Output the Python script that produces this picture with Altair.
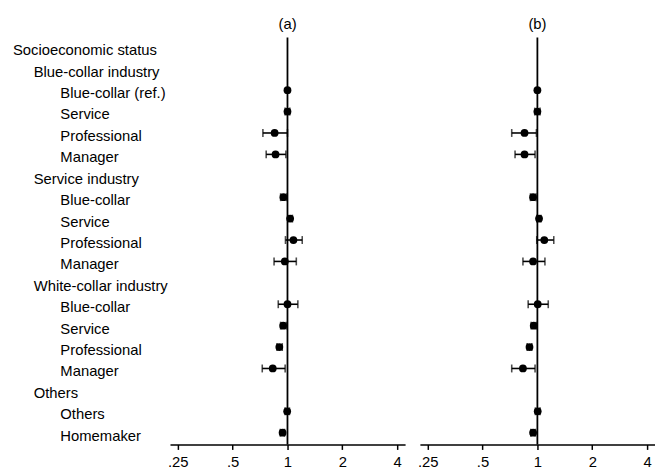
import altair as alt
import pandas as pd

labels = [
    "Socioeconomic status",
    "Blue-collar industry",
    "Blue-collar (ref.)", "Service", "Professional", "Manager",
    "Service industry",
    "Blue-collar", "Service", "Professional", "Manager",
    "White-collar industry",
    "Blue-collar", "Service", "Professional", "Manager",
    "Others",
    "Others", "Homemaker",
]
levels = [0, 1, 2, 2, 2, 2, 1, 2, 2, 2, 2, 1, 2, 2, 2, 2, 1, 2, 2]

est_a = [None, None, 1.00, 1.00, 0.85, 0.86, None, 0.95, 1.034, 1.078, 0.967, None, 1.00, 0.947, 0.902, 0.83, None, 0.996, 0.94]
lo_a = [None, None, None, 0.97, 0.733, 0.764, None, 0.917, 1.004, 0.975, 0.844, None, 0.89, 0.917, 0.876, 0.727, None, 0.97, 0.913]
hi_a = [None, None, None, 1.03, 1.00, 0.98, None, 0.988, 1.064, 1.205, 1.118, None, 1.14, 0.984, 0.936, 0.971, None, 1.025, 0.963]

est_b = [None, None, 1.00, 1.00, 0.85, 0.85, None, 0.947, 1.021, 1.091, 0.947, None, 1.004, 0.955, 0.905, 0.833, None, 1.004, 0.947]
lo_b = [None, None, None, 0.967, 0.723, 0.754, None, 0.916, 0.992, 0.992, 0.833, None, 0.89, 0.924, 0.879, 0.723, None, 0.975, 0.92]
hi_b = [None, None, None, 1.034, 0.988, 0.971, None, 0.983, 1.047, 1.23, 1.10, None, 1.147, 0.988, 0.932, 0.971, None, 1.034, 0.975]

tick_values = [0.25, 0.5, 1, 2, 4]
tick_labels = [".25", ".5", "1", "2", "4"]
panel_titles = ["(a)", "(b)"]

FONT = "Liberation Sans"
FS = 15
n = len(labels)
rows = list(range(n))

label_df = pd.DataFrame({"row": rows, "label": labels, "level": levels})

yscale = alt.Scale(domain=[-0.46, n - 1 + 0.55], reverse=True, nice=False, zero=False)
xscale = alt.Scale(type="log", base=2, domain=[0.2266, 4.42], nice=False)

label_expr = " : ".join(
    f"datum.value == {v} ? '{t}'" for v, t in zip(tick_values, tick_labels)
) + " : ''"

indent_px = [5, 26, 53]
label_layers = []
for lv, px in enumerate(indent_px):
    label_layers.append(
        alt.Chart(label_df)
        .transform_filter(alt.datum.level == lv)
        .mark_text(align="left", baseline="middle", fontSize=FS, font=FONT, color="black", dy=3)
        .encode(x=alt.value(px), y=alt.Y("row:Q", scale=yscale, axis=None), text="label:N")
    )
label_panel = alt.layer(*label_layers).properties(width=149, height=412)


def panel(est, lo, hi, title):
    df = pd.DataFrame({"row": rows, "est": est, "lo": lo, "hi": hi})
    base = alt.Chart(df)
    y = alt.Y("row:Q", scale=yscale, axis=None)
    xaxis = alt.Axis(
        values=tick_values, labelExpr=label_expr, title=None, grid=False,
        domainColor="black", domainWidth=1.5, tickColor="black", tickWidth=1.5,
        tickSize=5, labelFontSize=FS, labelFont=FONT, labelColor="black",
        labelPadding=5, labelFlush=False, labelOverlap=False,
    )
    refline = alt.Chart(pd.DataFrame({"v": [1]})).mark_rule(color="black", strokeWidth=1.8).encode(
        x=alt.X("v:Q", scale=xscale, axis=xaxis)
    )
    bars = base.mark_rule(color="black", strokeWidth=1.6).encode(
        x=alt.X("lo:Q", scale=xscale), x2="hi:Q", y=y
    )
    cap_lo = base.mark_tick(color="black", orient="vertical", size=8, thickness=1.6).encode(
        x=alt.X("lo:Q", scale=xscale), y=y
    )
    cap_hi = base.mark_tick(color="black", orient="vertical", size=8, thickness=1.6).encode(
        x=alt.X("hi:Q", scale=xscale), y=y
    )
    pts = base.mark_circle(color="black", size=62, opacity=1).encode(
        x=alt.X("est:Q", scale=xscale), y=y
    )
    return alt.layer(refline, bars, cap_lo, cap_hi, pts).properties(
        width=238, height=412,
        title=alt.TitleParams(title, fontSize=FS, font=FONT, fontWeight="normal", color="black", offset=5, anchor="middle"),
    )


chart = alt.hconcat(
    label_panel,
    panel(est_a, lo_a, hi_a, panel_titles[0]),
    panel(est_b, lo_b, hi_b, panel_titles[1]),
    spacing=15, bounds="flush",
).properties(
    padding={"left": 0, "right": 0, "top": 6, "bottom": 0}
).configure_view(stroke=None)

chart.save("out.html", embed_options={"renderer": "svg", "actions": False})
